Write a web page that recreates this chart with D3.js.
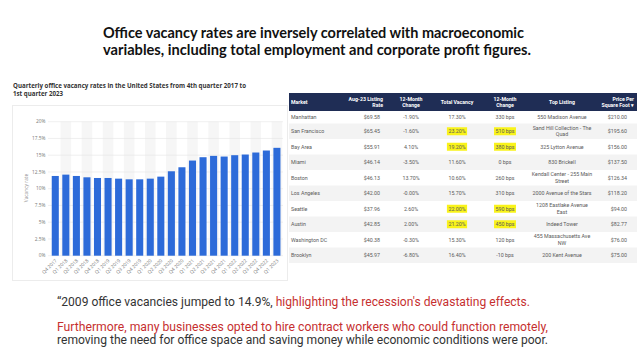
<!DOCTYPE html>
<html><head><meta charset="utf-8">
<script src="https://cdn.jsdelivr.net/npm/d3@7"></script>
<style>body{margin:0;background:#fff}svg{display:block}</style>
</head><body><svg id="c" width="640" height="360"></svg>
<script>
// ---------- data ----------
const slideTitle = ["Office vacancy rates are inversely correlated with macroeconomic",
                    "variables, including total employment and corporate profit figures."];
const chartTitle = ["Quarterly office vacancy rates in the United States from 4th quarter 2017 to",
                    "1st quarter 2023"];
const yAxisTitle = "Vacancy rate";
const quarters = ["Q4 2017","Q1 2018","Q2 2018","Q3 2018","Q4 2018","Q1 2019","Q2 2019","Q3 2019",
                  "Q4 2019","Q1 2020","Q2 2020","Q3 2020","Q4 2020","Q1 2021","Q2 2021","Q3 2021",
                  "Q4 2021","Q1 2022","Q2 2022","Q3 2022","Q4 2022","Q1 2023"];
const vacancyRate = [11.9,12.1,11.9,11.7,11.6,11.6,11.5,11.4,11.4,11.5,11.8,12.6,13.2,14.2,14.7,14.9,
                     14.8,15.0,15.1,15.4,15.7,16.1];
const yTicks = [0,2.5,5,7.5,10,12.5,15,17.5,20];
const yTickLabels = ["0%","2.5%","5%","7.5%","10%","12.5%","15%","17.5%","20%"];

const tableHeaders = [["Market"],["Aug-23 Listing","Rate"],["12-Month","Change"],["Total Vacancy"],
                      ["12-Month","Change"],["Top Listing"],["Price Per","Square Foot \u25BE"]];
const markets = ["Manhattan","San Francisco","Bay Area","Miami","Boston","Los Angeles","Seattle",
                 "Austin","Washington DC","Brooklyn"];
const listingRate = ["$69.58","$65.45","$55.91","$46.14","$46.13","$42.00","$37.96","$42.85","$40.38","$45.97"];
const listingChange = ["-1.90%","-1.60%","4.10%","-3.50%","13.70%","-0.00%","2.60%","2.00%","-0.30%","-6.80%"];
const totalVacancy = ["17.30%","23.20%","19.20%","11.60%","10.60%","15.70%","22.00%","21.20%","15.30%","16.40%"];
const vacancyChange = ["330 bps","510 bps","380 bps","0 bps","260 bps","310 bps","590 bps","450 bps","120 bps","-10 bps"];
const topListing = [["550 Madison Avenue"],["Sand Hill Collection - The","Quad"],["325 Lytton Avenue"],
                    ["830 Brickell"],["Kendall Center - 255 Main","Street"],["2000 Avenue of the Stars"],
                    ["1208 Eastlake Avenue","East"],["Indeed Tower"],["455 Massachusetts Ave","NW"],
                    ["200 Kent Avenue"]];
const pricePerSqft = ["$210.00","$195.60","$156.00","$137.50","$126.34","$118.20","$94.00","$82.77","$76.00","$75.00"];
const highlightedMarkets = ["San Francisco","Bay Area","Seattle","Austin"];

const noteLine1 = ["\u201C2009 office vacancies jumped to 14.9%, ", "highlighting the recession's devastating effects."];
const noteLine2 = "Furthermore, many businesses opted to hire contract workers who could function remotely,";
const noteLine3 = "removing the need for office space and saving money while economic conditions were poor.";

// ---------- drawing ----------
const svg = d3.select("#c");
svg.append("rect").attr("width",640).attr("height",360).attr("fill","#fff");

// slide title
const titleW = [421, 428];
slideTitle.forEach((t,i)=>{
  svg.append("text").attr("x",103).attr("y",37.5+i*17.5)
    .attr("font-family","Lato, 'Open Sans', sans-serif").attr("font-weight",700)
    .attr("font-size",14.8).attr("fill","#111")
    .attr("textLength",titleW[i]).attr("lengthAdjust","spacingAndGlyphs").text(t);
});

// chart title
const ctW = [233, 50];
chartTitle.forEach((t,i)=>{
  svg.append("text").attr("x",13).attr("y",88+i*7.6)
    .attr("font-family","'Open Sans', sans-serif").attr("font-weight",700)
    .attr("font-size",6.3).attr("fill","#333")
    .attr("textLength",ctW[i]).attr("lengthAdjust","spacingAndGlyphs").text(t);
});

// chart panel
svg.append("rect").attr("x",12.5).attr("y",105.5).attr("width",275).attr("height",175)
  .attr("fill","#fff").attr("stroke","#ececec").attr("stroke-width",1);

const y = d3.scaleLinear().domain([0,20]).range([255.7,121.7]);
const x = d3.scaleBand().domain(quarters).range([50,282.2]).paddingInner(0.33).paddingOuter(0.165);
const step = x.step();

// faint vertical bands
svg.append("g").selectAll("rect").data(quarters.filter((d,i)=>i%2===1)).join("rect")
  .attr("x",d=>x(d)+x.bandwidth()/2-step/2).attr("width",step)
  .attr("y",y(20)).attr("height",y(0)-y(20)).attr("fill","#f6f6f6");

// gridlines
svg.append("g").selectAll("line").data(yTicks).join("line")
  .attr("x1",48).attr("x2",283).attr("y1",d=>y(d)).attr("y2",d=>y(d))
  .attr("stroke","#e6e6e6").attr("stroke-width",0.6);

// y tick labels
svg.append("g").selectAll("text").data(yTicks).join("text")
  .attr("x",45.5).attr("y",d=>y(d)+1.6).attr("text-anchor","end")
  .attr("font-family","'Open Sans', sans-serif").attr("font-size",4.8).attr("fill","#777")
  .text((d,i)=>yTickLabels[i]);

// y axis title
svg.append("text").attr("transform","translate(28,188) rotate(-90)").attr("text-anchor","middle")
  .attr("font-family","'Open Sans', sans-serif").attr("font-size",4.8).attr("fill","#888").text(yAxisTitle);

// bars
svg.append("g").selectAll("rect").data(quarters).join("rect")
  .attr("x",d=>x(d)).attr("width",x.bandwidth())
  .attr("y",(d,i)=>y(vacancyRate[i])).attr("height",(d,i)=>y(0)-y(vacancyRate[i]))
  .attr("fill","#2d6bd9");

// x labels
svg.append("g").selectAll("text").data(quarters).join("text")
  .attr("transform",d=>`translate(${x(d)+x.bandwidth()/2+2},261) rotate(-45)`)
  .attr("text-anchor","end")
  .attr("font-family","'Open Sans', sans-serif").attr("font-size",4.8).attr("fill","#777").text(d=>d);

// ---------- table ----------
const tX0 = 289, tX1 = 637;
const headTop = 93, headBot = 111;
svg.append("rect").attr("x",tX0).attr("y",headTop).attr("width",tX1-tX0).attr("height",headBot-headTop)
  .attr("fill","#1f2d55");

const cols = [
  {x:291, hx:291, a:"start"},
  {x:380, hx:383, a:"end"},
  {x:411, hx:411, a:"middle"},
  {x:457, hx:457, a:"middle"},
  {x:505, hx:505, a:"middle"},
  {x:562, hx:562, a:"middle"},
  {x:627, hx:634, a:"end"}
];
const hMid = (headTop+headBot)/2;
tableHeaders.forEach((lines,ci)=>{
  lines.forEach((t,li)=>{
    const off = (li-(lines.length-1)/2)*6;
    svg.append("text").attr("x",cols[ci].hx).attr("y",hMid+off+1.8).attr("text-anchor",cols[ci].a)
      .attr("font-family","Roboto, sans-serif").attr("font-weight",700).attr("font-size",5.2)
      .attr("fill","#fff").text(t);
  });
});

const rowH = markets.map((d,i)=> i===0 ? 12.5 : 15.5);
const rowTop = [];
rowH.reduce((acc,h,i)=>{rowTop[i]=acc; return acc+h;}, headBot);

const body = svg.append("g");
markets.forEach((m,ri)=>{
  const top = rowTop[ri], h = rowH[ri], mid = top+h/2;
  body.append("rect").attr("x",tX0).attr("y",top).attr("width",tX1-tX0).attr("height",h)
    .attr("fill", ri%2===1 ? "#f3f3f3" : "#ffffff");
  const cells = [[m],[listingRate[ri]],[listingChange[ri]],[totalVacancy[ri]],[vacancyChange[ri]],
                 topListing[ri],[pricePerSqft[ri]]];
  cells.forEach((lines,ci)=>{
    lines.forEach((t,li)=>{
      const off = (li-(lines.length-1)/2)*6.4;
      const hl = highlightedMarkets.includes(m) && (ci===3 || ci===4);
      const g = body.append("g");
      const txt = g.append("text").attr("x",cols[ci].x).attr("y",mid+off+1.8).attr("text-anchor",cols[ci].a)
        .attr("font-family","Roboto, sans-serif").attr("font-size",5.3).attr("fill","#5a5a5a").text(t);
      if(hl){
        const w = txt.node().getComputedTextLength();
        g.insert("rect","text").attr("x",cols[ci].x-w/2-1.5).attr("y",mid-4)
          .attr("width",w+3).attr("height",8).attr("fill","#f9f31a");
      }
    });
  });
});

// ---------- notes ----------
const nf = "Roboto, sans-serif";
const nfs = 12.5;
const nx = 57;
function note(t, xx, yy, col){
  return svg.append("text").attr("x",xx).attr("y",yy).attr("font-family",nf).attr("font-size",nfs)
    .attr("fill",col).attr("xml:space","preserve").style("white-space","pre").text(t);
}
const p1 = note(noteLine1[0], nx, 305.5, "#333");
const p2 = note(noteLine1[1], nx, 305.5, "#c62f2f");
const w1 = p1.node().getComputedTextLength(), w2 = p2.node().getComputedTextLength();
const k1 = 473/(w1+w2);
p1.attr("textLength",w1*k1).attr("lengthAdjust","spacingAndGlyphs");
p2.attr("x",nx+w1*k1).attr("textLength",w2*k1).attr("lengthAdjust","spacingAndGlyphs");
note(noteLine2, nx, 330.5, "#c62f2f").attr("textLength",491).attr("lengthAdjust","spacingAndGlyphs");
note(noteLine3, nx, 344, "#333").attr("textLength",491).attr("lengthAdjust","spacingAndGlyphs");
</script></body></html>
